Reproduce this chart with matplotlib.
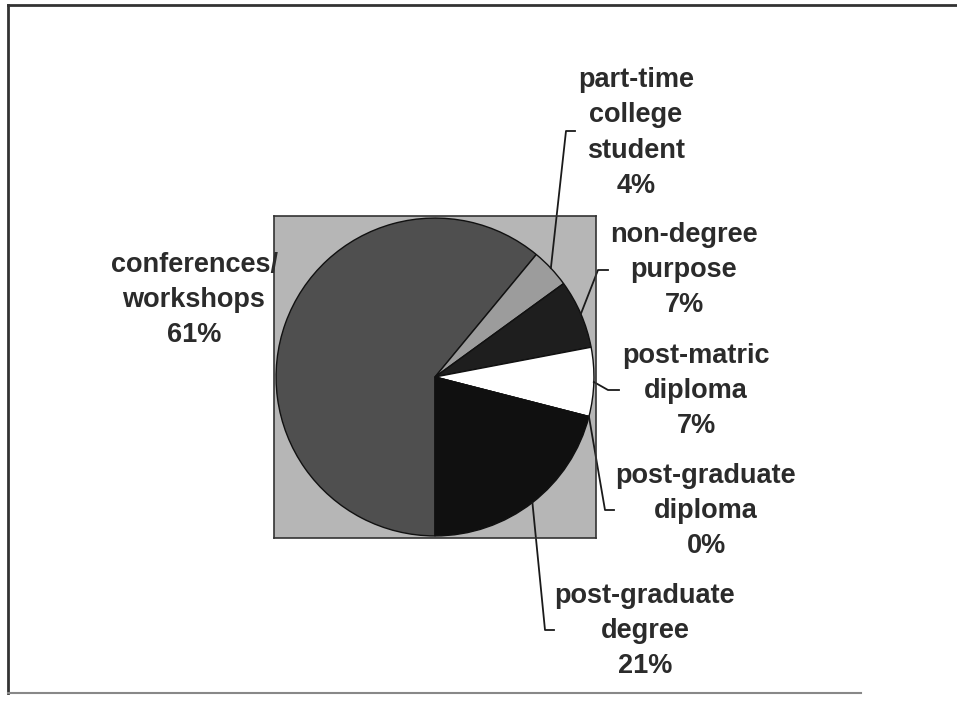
import numpy as np
import matplotlib.pyplot as plt
from matplotlib.lines import Line2D

# Data
labels = ['conferences/\nworkshops', 'part-time\ncollege\nstudent', 'non-degree\npurpose',
          'post-matric\ndiploma', 'post-graduate\ndiploma', 'post-graduate\ndegree']
values = [61, 4, 7, 7, 0, 21]
colors = ['#4f4f4f', '#9c9c9c', '#1e1e1e', '#ffffff', '#ffffff', '#101010']

W, H = 957, 704
fig = plt.figure(figsize=(W / 100, H / 100), dpi=100)
fig.patch.set_facecolor('white')

# pie plot area (pixels, top-left origin)
bx0, by0, bx1, by1 = 274, 216, 596, 538
ax = fig.add_axes([bx0 / W, 1 - by1 / H, (bx1 - bx0) / W, (by1 - by0) / H])

wedges, _ = ax.pie(values, colors=colors, startangle=-90, counterclock=False,
                   radius=1.0, wedgeprops=dict(edgecolor='#111111', linewidth=1.0))
lim = 1.013
ax.set_xlim(-lim, lim)
ax.set_ylim(-lim, lim)
ax.set_aspect('auto')
# pie() switches the frame off; the reference has a grey plot area
ax.set_frame_on(True)
ax.set_facecolor('#b6b6b6')
for s in ax.spines.values():
    s.set_visible(True)
    s.set_color('#333333')
    s.set_linewidth(1.2)
ax.set_xticks([])
ax.set_yticks([])

# pixel -> data helper (pie centre and radius in pixels)
cx, cy, rpx = (bx0 + bx1) / 2, (by0 + by1) / 2, (bx1 - bx0) / 2 / lim


def to_data(px, py):
    return (px - cx) / rpx, (cy - py) / rpx


# label centres (pixels) and leader elbow/end points
label_pos = [(194, 300), (636, 133), (684, 270), (696, 391), (706, 511), (645, 631)]
leaders = [None, [(566, 131), (575, 131)], [(598, 270), (608, 270)],
           [(608, 390), (619, 390)], [(605, 510), (614, 510)], [(545, 630), (554, 630)]]

font = dict(family=['Liberation Sans', 'DejaVu Sans'], fontweight='bold',
            fontsize=19.5, color='#2b2b2b')

for i, (lab, v) in enumerate(zip(labels, values)):
    x, y = label_pos[i]
    fig.text(x / W, 1 - y / H, f'{lab}\n{v}%', ha='center', va='center',
             linespacing=1.46, **font)
    if leaders[i] is None:
        continue
    w = wedges[i]
    ang = np.deg2rad((w.theta1 + w.theta2) / 2)
    pts = [(np.cos(ang), np.sin(ang))] + [to_data(*p) for p in leaders[i]]
    xs, ys = zip(*pts)
    ax.plot(xs, ys, color='#1a1a1a', lw=1.3, clip_on=False)

# outer frame
fig.add_artist(Line2D([8 / W, 1], [1 - 5 / H, 1 - 5 / H], color='#333333', lw=2))
fig.add_artist(Line2D([8 / W, 8 / W], [1 - 5 / H, 1 - 693 / H], color='#333333', lw=2))
fig.add_artist(Line2D([8 / W, 0.9], [1 - 693 / H, 1 - 693 / H], color='#888888', lw=1.5))

fig.savefig('out.png', dpi=100)
